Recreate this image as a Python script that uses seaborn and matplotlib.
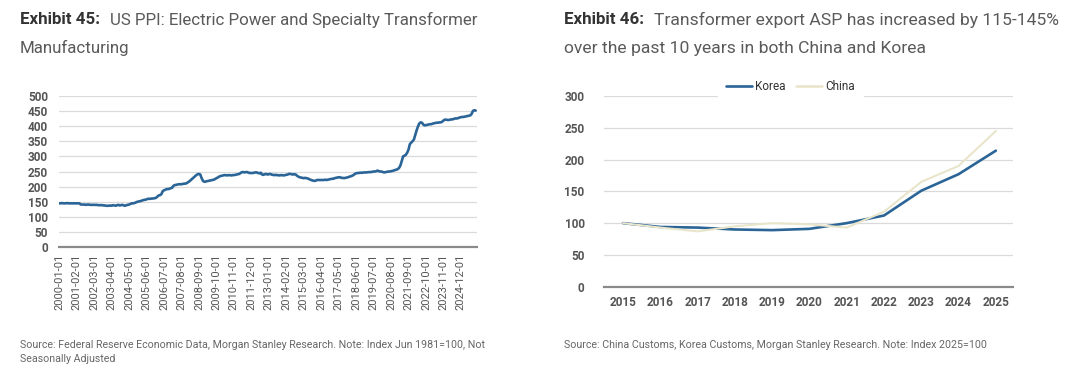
#!/usr/bin/env python
# encoding: utf-8

import pandas as pd
import numpy as np
import matplotlib
matplotlib.use("Agg")
import matplotlib.pyplot as plt
import seaborn as sns

# ---- Exhibit 45: US PPI, monthly from 2000-01 to 2025-11 ----
PPI_START = "2000-01-01"
ppi_values = [
    145, 145, 146, 145, 145, 145, 146, 145, 145, 145, 145, 145,  # 2000
    145, 145, 145, 145, 141, 141, 141, 141, 140, 141, 141, 140,  # 2001
    140, 140, 140, 140, 140, 139, 139, 139, 139, 138, 138, 137,  # 2002
    137, 137, 138, 137, 139, 138, 137, 139, 140, 138, 139, 140,  # 2003
    138, 137, 139, 140, 141, 143, 145, 145, 146, 148, 150, 151,  # 2004
    152, 153, 155, 156, 157, 158, 160, 160, 160, 161, 161, 162,  # 2005
    163, 167, 171, 172, 175, 185, 188, 190, 192, 192, 193, 195,  # 2006
    196, 203, 205, 206, 207, 208, 208, 208, 209, 210, 210, 212,  # 2007
    215, 218, 222, 226, 230, 234, 238, 241, 242, 240, 228, 219,  # 2008
    216, 217, 218, 219, 220, 221, 222, 223, 225, 228, 230, 233,  # 2009
    235, 236, 237, 238, 238, 237, 238, 238, 237, 238, 238, 239,  # 2010
    240, 241, 242, 245, 248, 248, 247, 248, 248, 246, 245, 245,  # 2011
    245, 246, 247, 247, 245, 244, 246, 240, 239, 241, 242, 240,  # 2012
    241, 242, 240, 239, 238, 239, 238, 238, 237, 238, 238, 237,  # 2013
    238, 239, 240, 242, 242, 241, 240, 241, 240, 236, 233, 231,  # 2014
    230, 229, 228, 229, 228, 227, 225, 223, 221, 220, 219, 220,  # 2015
    222, 222, 222, 222, 222, 222, 223, 222, 223, 224, 225, 226,  # 2016
    226, 228, 229, 230, 231, 231, 229, 229, 228, 229, 230, 231,  # 2017
    233, 234, 236, 238, 242, 244, 245, 245, 246, 246, 246, 247,  # 2018
    247, 247, 248, 248, 248, 249, 250, 250, 251, 253, 251, 250,  # 2019
    250, 248, 247, 248, 249, 250, 250, 251, 252, 253, 255, 256,  # 2020
    258, 262, 270, 285, 300, 302, 305, 312, 322, 340, 345, 350,  # 2021
    355, 370, 385, 398, 408, 412, 411, 405, 402, 403, 404, 405,  # 2022
    406, 406, 408, 409, 410, 411, 411, 412, 412, 414, 418, 421,  # 2023
    421, 420, 420, 421, 422, 422, 424, 425, 425, 426, 428, 429,  # 2024
    430, 430, 431, 432, 433, 434, 435, 440, 450, 452, 451,       # 2025
]
ppi_yticks = [0, 50, 100, 150, 200, 250, 300, 350, 400, 450, 500]

# ---- Exhibit 46: transformer export ASP index ----
asp_years = ["2015", "2016", "2017", "2018", "2019", "2020",
             "2021", "2022", "2023", "2024", "2025"]
korea_asp = [100, 94, 93, 90, 89, 91, 100, 112, 151, 177, 214]
china_asp = [100, 93, 87, 95, 100, 98, 93, 118, 165, 190, 245]
asp_yticks = [0, 50, 100, 150, 200, 250, 300]

BLUE = "#2b6597"
BEIGE = "#e9e5cb"
GRID = "#dadada"
AXIS = "#8a8a8a"
TICK = "#555555"
TEXT = "#5a5a5a"
DARK = "#333333"

sns.set_style("white")
plt.rcParams['font.family'] = ['Roboto', 'DejaVu Sans']
TICKFONT = ['Roboto', 'DejaVu Sans']


def style_axes(ax, yticks):
    for side in ["top", "right", "left"]:
        ax.spines[side].set_visible(False)
    ax.spines["bottom"].set_color(AXIS)
    ax.spines["bottom"].set_linewidth(1.6)
    ax.set_yticks(yticks)
    ax.set_ylim(yticks[0], yticks[-1])
    ax.grid(axis="y", color=GRID, linewidth=0.9)
    ax.grid(axis="x", visible=False)
    ax.set_axisbelow(True)
    ax.tick_params(axis="both", length=0, colors=TICK)
    ax.set_xlabel("")
    ax.set_ylabel("")
    for lab in ax.get_yticklabels():
        lab.set_family(TICKFONT)
        lab.set_fontweight("bold")
        lab.set_fontsize(8.5)


def title(fig, x, y, bold, rest, line2, size):
    t = fig.text(x, y, bold, fontsize=12.2, fontweight="bold", color=DARK, va="center")
    fig.canvas.draw()
    bb = t.get_window_extent()
    x2 = (bb.x1 + 10) / fig.bbox.width
    fig.text(x2, y, rest, fontsize=size, color=TEXT, va="center")
    fig.text(x, y - 28 / 386, line2, fontsize=size, color=TEXT, va="center")


def main():
    fig = plt.figure(figsize=(10.8, 3.86), dpi=100)

    # ---- left chart ----
    ppi = pd.DataFrame({
        "date": pd.date_range(PPI_START, periods=len(ppi_values), freq="MS"),
        "value": ppi_values,
    })
    ppi["idx"] = np.arange(len(ppi))
    ax1 = fig.add_axes([59 / 1080, 1 - 247.3 / 386, 418 / 1080, 151.6 / 386])
    sns.lineplot(data=ppi, x="idx", y="value", ax=ax1, color=BLUE, linewidth=1.9)
    style_axes(ax1, ppi_yticks)
    ax1.set_xlim(-0.2, 311)
    tick_pos = ppi["idx"].values[::13]
    ax1.set_xticks(tick_pos)
    ax1.set_xticklabels(ppi["date"].dt.strftime("%Y-%m-%d").values[::13],
                        rotation=90, fontsize=8, family=TICKFONT, color=TICK)
    ax1.tick_params(axis="x", pad=5)
    ax1.tick_params(axis="y", pad=8)

    # ---- right chart ----
    asp = pd.DataFrame({
        "year": asp_years * 2,
        "value": korea_asp + china_asp,
        "country": ["Korea"] * len(asp_years) + ["China"] * len(asp_years),
    })
    ax2 = fig.add_axes([604 / 1080, 1 - 286.7 / 386, 409 / 1080, 190.7 / 386])
    sns.lineplot(data=asp, x="year", y="value", hue="country", ax=ax2,
                 palette={"Korea": BLUE, "China": BEIGE}, linewidth=1.9,
                 hue_order=["Korea", "China"])
    for line in ax2.get_lines():
        if line.get_color() == BEIGE:
            line.set_linewidth(1.5)
    style_axes(ax2, asp_yticks)
    ax2.set_xlim(-0.51, 10.46)
    for lab in ax2.get_xticklabels():
        lab.set_family(TICKFONT)
        lab.set_fontweight("bold")
        lab.set_fontsize(8.5)
    ax2.tick_params(axis="x", pad=7)
    ax2.tick_params(axis="y", pad=14)
    # white legend box sits over the top gridline, as in the original
    leg = ax2.legend(loc="center", bbox_to_anchor=(0.455, 1.05), ncol=2, frameon=True,
                     fontsize=8.5, handlelength=2.2, columnspacing=0.9,
                     handletextpad=0.25, borderpad=0.7, framealpha=1)
    leg.get_frame().set_facecolor("white")
    leg.get_frame().set_edgecolor("white")
    for txt in leg.get_texts():
        txt.set_color(DARK)
        txt.set_family(TICKFONT)
    for h in leg.get_lines():
        h.set_linewidth(1.9)

    # ---- titles and sources ----
    title(fig, 20 / 1080, 1 - 20 / 386, "Exhibit 45:",
          "US PPI: Electric Power and Specialty Transformer", "Manufacturing", 12.2)
    title(fig, 564 / 1080, 1 - 20 / 386, "Exhibit 46:",
          "Transformer export ASP has increased by 115-145%",
          "over the past 10 years in both China and Korea", 12.6)

    fig.text(20 / 1080, 1 - 345 / 386,
             "Source: Federal Reserve Economic Data, Morgan Stanley Research. Note: Index Jun 1981=100, Not",
             fontsize=7.65, color="#666666", va="center")
    fig.text(20 / 1080, 1 - 359 / 386, "Seasonally Adjusted",
             fontsize=7.65, color="#666666", va="center")
    fig.text(564 / 1080, 1 - 345 / 386,
             "Source: China Customs, Korea Customs, Morgan Stanley Research. Note: Index 2025=100",
             fontsize=7.65, color="#666666", va="center")

    fig.savefig("out.png", dpi=100, facecolor="white")


if __name__ == '__main__':
    main()
